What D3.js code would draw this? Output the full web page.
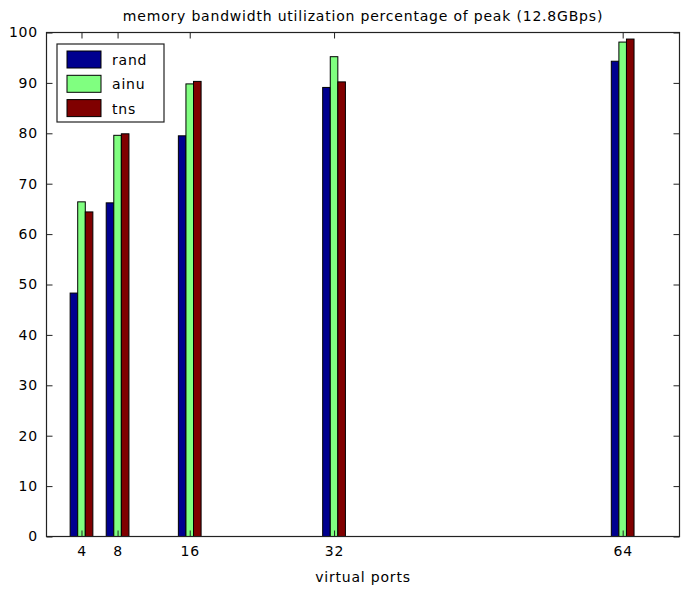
<!DOCTYPE html>
<html>
<head>
<meta charset="utf-8">
<script src="https://cdn.jsdelivr.net/npm/d3@7"></script>
<style>
  body { margin: 0; background: #fff; }
  text { font-family: 'DejaVu Sans', sans-serif; fill: #000; }
</style>
</head>
<body>
<div id="chart"></div>
<script>
// data
const ports = [4, 8, 16, 32, 64]
const seriesNames = ['rand', 'ainu', 'tns']
const rand = [48.3, 66.2, 79.5, 89.1, 94.3]
const ainu = [66.4, 79.6, 89.8, 95.2, 98.1]
const tns = [64.4, 79.9, 90.3, 90.2, 98.7]
const yTicks = [0, 10, 20, 30, 40, 50, 60, 70, 80, 90, 100]
const colors = ['#00008f', '#80ff80', '#800000']

const series = [rand, ainu, tns]

// set the dimensions and margins of the graph
const W = 682
const H = 590
const margin = { top: 32.5, right: 2.5, bottom: 53.5, left: 46.5 }
const width = W - margin.left - margin.right
const height = H - margin.top - margin.bottom

const fontSize = '14px'
const spacing = '0.8px'

const svg = d3.select('#chart')
  .append('svg')
  .attr('width', W)
  .attr('height', H)

const g = svg.append('g')
  .attr('transform', 'translate(' + margin.left + ',' + margin.top + ')')

// axes scales (matlab picked slightly odd x limits)
const x = d3.scaleLinear().domain([0.12, 70.3]).range([0, width])
const y = d3.scaleLinear().domain([0, 100]).range([height, 0])

const barW = 0.84 // in x units

// bars
series.forEach(function (vals, si) {
  g.selectAll('.bar' + si)
    .data(vals)
    .enter()
    .append('rect')
    .attr('x', function (d, i) { return x(ports[i] + (si - 1.5) * barW) })
    .attr('y', function (d) { return y(d) })
    .attr('width', x(barW) - x(0))
    .attr('height', function (d) { return y(0) - y(d) })
    .attr('fill', colors[si])
    .attr('stroke', '#000')
    .attr('stroke-width', 1)
})

// ticks pointing inward on all four sides
const tickLen = 6
const tickColor = '#222'

g.append('g')
  .call(d3.axisLeft(y).tickValues(yTicks).tickSizeInner(-tickLen).tickSizeOuter(0).tickPadding(8.5))
  .call(function (a) { a.select('.domain').remove() })
g.append('g')
  .attr('transform', 'translate(' + width + ',0)')
  .call(d3.axisRight(y).tickValues(yTicks).tickSizeInner(-tickLen).tickSizeOuter(0).tickFormat(''))
  .call(function (a) { a.select('.domain').remove() })
g.append('g')
  .attr('transform', 'translate(0,' + height + ')')
  .call(d3.axisBottom(x).tickValues(ports).tickSizeInner(-tickLen).tickSizeOuter(0).tickPadding(10))
  .call(function (a) { a.select('.domain').remove() })
g.append('g')
  .call(d3.axisTop(x).tickValues(ports).tickSizeInner(-tickLen).tickSizeOuter(0).tickFormat(''))
  .call(function (a) { a.select('.domain').remove() })

g.selectAll('.tick line').attr('stroke', tickColor)
g.selectAll('.tick text')
  .style('font-size', fontSize)
  .style('letter-spacing', spacing)
  .style('font-family', "'DejaVu Sans', sans-serif")
  .attr('fill', '#000')

// axes box
g.append('rect')
  .attr('x', 0)
  .attr('y', 0)
  .attr('width', width)
  .attr('height', height)
  .attr('fill', 'none')
  .attr('stroke', tickColor)
  .attr('stroke-width', 1.2)

// title and x label
svg.append('text')
  .attr('x', margin.left + width / 2)
  .attr('y', 21)
  .attr('text-anchor', 'middle')
  .style('font-size', fontSize)
  .style('letter-spacing', spacing)
  .text('memory bandwidth utilization percentage of peak (12.8GBps)')

svg.append('text')
  .attr('x', margin.left + width / 2)
  .attr('y', 582)
  .attr('text-anchor', 'middle')
  .style('font-size', fontSize)
  .style('letter-spacing', spacing)
  .text('virtual ports')

// legend
const legend = svg.append('g').attr('transform', 'translate(57,44)')
legend.append('rect')
  .attr('width', 107)
  .attr('height', 78)
  .attr('fill', '#fff')
  .attr('stroke', tickColor)
  .attr('stroke-width', 1.2)

const rows = legend.selectAll('.row')
  .data(seriesNames)
  .enter()
  .append('g')
  .attr('transform', function (d, i) { return 'translate(10,' + (7 + i * 24.3) + ')' })
rows.append('rect')
  .attr('width', 34)
  .attr('height', 17)
  .attr('fill', function (d, i) { return colors[i] })
  .attr('stroke', '#000')
rows.append('text')
  .attr('x', 45)
  .attr('y', 14)
  .style('font-size', fontSize)
  .style('letter-spacing', spacing)
  .text(function (d) { return d })
</script>
</body>
</html>
